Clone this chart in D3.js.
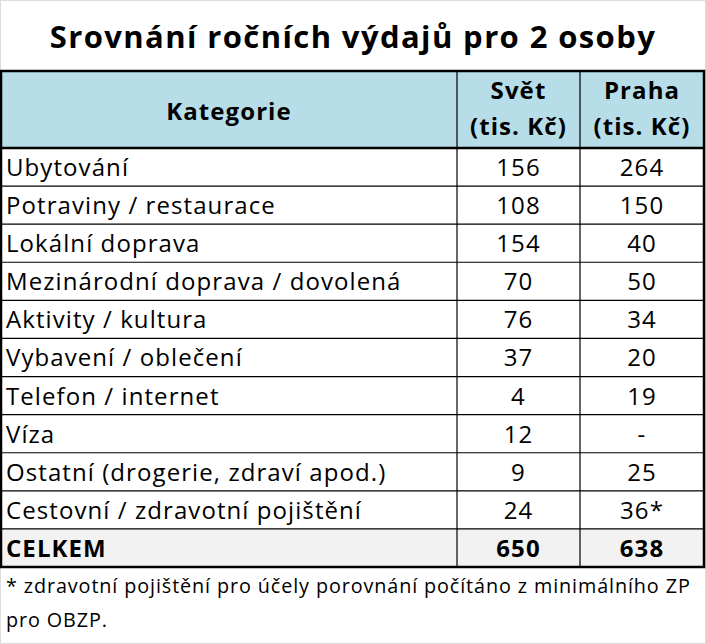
<!DOCTYPE html>
<html>
<head>
<meta charset="utf-8">
<script src="https://cdn.jsdelivr.net/npm/d3@7"></script>
<style>
  body { margin: 0; background: #fff; }
  svg { display: block; }
  text { letter-spacing: 0.045em; }
</style>
</head>
<body>
<svg width="706" height="644"></svg>
<script>
var title = 'Srovnání ročních výdajů pro 2 osoby';
var headers = [['Kategorie'], ['Svět', '(tis. Kč)'], ['Praha', '(tis. Kč)']];
var categories = ['Ubytování', 'Potraviny / restaurace', 'Lokální doprava',
  'Mezinárodní doprava / dovolená', 'Aktivity / kultura', 'Vybavení / oblečení',
  'Telefon / internet', 'Víza', 'Ostatní (drogerie, zdraví apod.)',
  'Cestovní / zdravotní pojištění'];
var svet = [156, 108, 154, 70, 76, 37, 4, 12, 9, 24];
var praha = [264, 150, 40, 50, 34, 20, 19, null, 25, 36];
var prahaMarks = ['', '', '', '', '', '', '', '', '', '*'];
var totalLabel = 'CELKEM';
var footnote = ['* zdravotní pojištění pro účely porovnání počítáno z minimálního ZP', 'pro OBZP.'];

var svg = d3.select('svg');
var W = 706;
var bodyFont = "'Open Sans', 'Noto Sans', sans-serif";

// light frame of the picture
svg.append('rect').attr('x', 0.5).attr('y', 0.5).attr('width', W - 1).attr('height', 643)
  .attr('fill', '#fff').attr('stroke', '#dcdcdc');

svg.append('text')
  .attr('x', W / 2).attr('y', 48)
  .attr('text-anchor', 'middle')
  .attr('font-family', bodyFont)
  .attr('font-weight', 'bold')
  .attr('font-size', 31)
  .text(title);

// table geometry
var colEdges = [1, 457, 580, 704];
var tableTop = 71, headBottom = 148, tableBottom = 567;

var rowIdx = d3.range(categories.length + 1);
var y = d3.scaleBand().domain(rowIdx).range([headBottom, tableBottom]);

var rows = categories.map(function(c, i) {
  return { cat: c, a: String(svet[i]), b: praha[i] == null ? '-' : praha[i] + prahaMarks[i], total: false };
});
rows.push({ cat: totalLabel, a: String(d3.sum(svet)), b: String(d3.sum(praha)), total: true });

var t = svg.append('g');

// header fill
t.append('rect').attr('x', colEdges[0]).attr('y', tableTop)
  .attr('width', colEdges[3] - colEdges[0]).attr('height', headBottom - tableTop)
  .attr('fill', '#b7dde8');

// total row fill
t.append('rect').attr('x', colEdges[0]).attr('y', y(rows.length - 1))
  .attr('width', colEdges[3] - colEdges[0]).attr('height', y.bandwidth())
  .attr('fill', '#f2f2f2');

// header text
var cx = function(k) { return (colEdges[k] + colEdges[k + 1]) / 2; };
headers.forEach(function(h, k) {
  var base = h.length === 1 ? [120] : [99, 135];
  h.forEach(function(line, j) {
    t.append('text')
      .attr('x', cx(k)).attr('y', base[j])
      .attr('text-anchor', 'middle')
      .attr('font-family', bodyFont)
      .attr('font-weight', 'bold')
      .attr('font-size', 24)
      .text(line);
  });
});

// body rows
var g = t.selectAll('g.row').data(rows).enter().append('g')
  .attr('class', 'row')
  .attr('transform', function(d, i) { return 'translate(0,' + y(i) + ')'; })
  .attr('font-family', bodyFont)
  .attr('font-size', 24)
  .attr('font-weight', function(d) { return d.total ? 'bold' : 'normal'; });

g.append('text').attr('x', 6).attr('y', 28).text(function(d) { return d.cat; });
g.append('text').attr('x', cx(1)).attr('y', 28).attr('text-anchor', 'middle').text(function(d) { return d.a; });
g.append('text').attr('x', cx(2)).attr('y', 28).attr('text-anchor', 'middle').text(function(d) { return d.b; });

// grid lines
rowIdx.slice(1).forEach(function(i) {
  t.append('line').attr('x1', colEdges[0]).attr('x2', colEdges[3])
    .attr('y1', y(i)).attr('y2', y(i))
    .attr('stroke', '#000').attr('stroke-width', 1.2);
});
[1, 2].forEach(function(k) {
  t.append('line').attr('x1', colEdges[k]).attr('x2', colEdges[k])
    .attr('y1', tableTop).attr('y2', tableBottom)
    .attr('stroke', '#000').attr('stroke-width', 1.2);
});
t.append('line').attr('x1', colEdges[0]).attr('x2', colEdges[3])
  .attr('y1', headBottom).attr('y2', headBottom)
  .attr('stroke', '#000').attr('stroke-width', 2.5);
t.append('rect').attr('x', colEdges[0]).attr('y', tableTop)
  .attr('width', colEdges[3] - colEdges[0]).attr('height', tableBottom - tableTop)
  .attr('fill', 'none').attr('stroke', '#000').attr('stroke-width', 2.5);

// footnote
footnote.forEach(function(line, j) {
  svg.append('text')
    .attr('x', 6).attr('y', 593 + j * 34)
    .attr('font-family', bodyFont)
    .attr('font-size', 19.8)
    .text(line);
});
</script>
</body>
</html>
